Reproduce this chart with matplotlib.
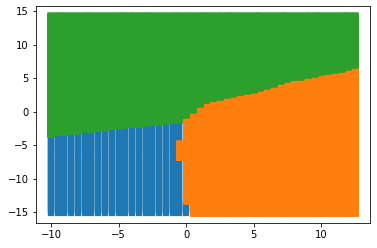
import numpy as np
import matplotlib
matplotlib.use('Agg')
from matplotlib import pyplot as plt

# grid columns / rows of the decision map
x_cols = np.arange(-10, 12.75, 0.5)
y_rows = np.arange(-15.2, 14.35, 0.1)

# lower edge of green region, one value per column
green_floor = [-3.45, -3.2, -3.2, -2.95, -2.95, -2.65, -2.65, -2.6, -2.45, -2.3,
               -2.2, -2.1, -2.0, -1.9, -1.8, -1.7, -1.6, -1.45, -1.35, -1.25,
               -0.6, 0.2, 1.1, 1.6, 1.9, 2.1, 2.4, 2.6, 2.8, 3.0,
               3.2, 3.5, 3.8, 4.1, 4.5, 4.8, 5.0, 5.1, 5.3, 5.5,
               5.8, 6.0, 6.15, 6.3, 6.6, 6.9]

# blue / orange split: below each y break, orange starts at split_x
split_y = [20.0, -4.7, -6.9, -13.4]
split_x = [0.0, -0.5, 0.0, 0.5]

pts = {0: ([], []), 1: ([], []), 2: ([], [])}
for i, x in enumerate(x_cols):
    for y in y_rows:
        if y >= green_floor[i]:
            c = 2
        else:
            sx = split_x[0]
            for k in range(len(split_y)):
                if y < split_y[k]:
                    sx = split_x[k]
            c = 1 if x >= sx - 1e-9 else 0
        pts[c][0].append(x)
        pts[c][1].append(y)

fig = plt.figure(figsize=(377/72, 248/72), dpi=72)
ax = fig.add_axes([35.7/377, 1-223.3/248, (370.3-35.7)/377, (223.3-6)/248])
sizes = {0: 36, 1: 38, 2: 38}
widths = {0: 0.1, 1: 0.6, 2: 1.5}
for c in [0, 1, 2]:
    ax.scatter(pts[c][0], pts[c][1], marker='s', s=sizes[c], linewidths=widths[c])
ax.tick_params(labelsize=10)
fig.savefig('out.png', dpi=72)
